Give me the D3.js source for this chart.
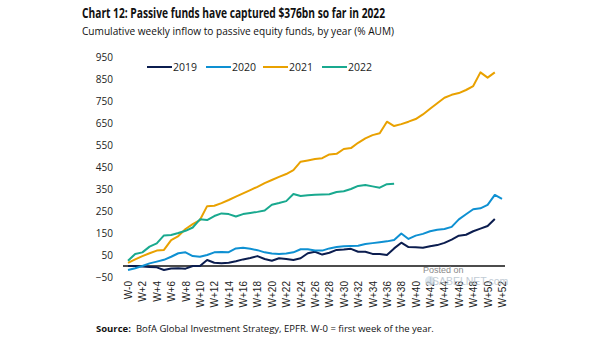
<!DOCTYPE html>
<html><head><meta charset="utf-8">
<script src="https://cdn.jsdelivr.net/npm/d3@7"></script>
<style>
html,body{margin:0;padding:0;background:#fff;}
svg{display:block;font-family:"Open Sans","Liberation Sans",Arial,sans-serif;}
</style></head>
<body><svg id="c" width="605" height="341"></svg>
<script>
const years = ["2019","2020","2021","2022"];
const colors = ["#0b1d4f","#0e90d2","#e9a100","#19a98f"];
const s2019 = [0,0,-2,-4,-6,-18,-11,-10,-12,0,0,27,15,13,15,22,30,36,45,32,24,35,32,27,35,58,65,52,60,73,75,78,65,65,55,55,50,80,106,86,85,83,90,95,105,120,138,142,158,170,182,214];
const s2020 = [-18,-10,0,12,20,28,42,58,62,45,42,50,62,64,63,80,83,78,72,62,57,55,57,62,76,76,70,70,80,86,90,91,92,100,104,108,112,118,148,123,138,146,158,165,168,178,212,235,258,262,278,323,305];
const s2021 = [14,30,45,58,70,73,118,136,168,190,209,272,274,286,300,315,330,345,360,377,391,405,418,436,474,480,486,490,507,510,532,536,560,580,595,603,656,636,645,656,668,689,715,740,765,778,786,800,818,880,856,880];
const s2022 = [24,55,62,88,103,139,141,150,160,175,212,209,227,239,236,225,236,241,246,252,278,286,295,327,318,322,324,325,326,336,340,350,364,368,362,356,372,374];
const series = [s2019,s2020,s2021,s2022];
const yTicks = [-50,50,150,250,350,450,550,650,750,850,950];
const weeks = d3.range(0,53);
const weekLabels = weeks.filter(w=>w%2===0).map(w=> w===0 ? "W-0" : "W+"+w);

const svg = d3.select("#c");
const x = d3.scaleLinear().domain([0,52]).range([128,502]);
const y = d3.scaleLinear().domain([0,950]).range([266,57]);

// title
svg.append("text").attr("x",82).attr("y",18).attr("font-weight","bold").attr("font-size",13.5)
  .attr("textLength",303).attr("lengthAdjust","spacingAndGlyphs").attr("fill","#111")
  .text("Chart 12: Passive funds have captured $376bn so far in 2022");
svg.append("text").attr("x",82).attr("y",35).attr("font-size",11.5)
  .attr("textLength",312).attr("lengthAdjust","spacingAndGlyphs").attr("fill","#111")
  .text("Cumulative weekly inflow to passive equity funds, by year (% AUM)");

// y axis labels
const yAxis = d3.axisLeft(y).tickValues(yTicks).tickSize(0).tickPadding(0);
const gy = svg.append("g").attr("transform","translate(113,0)").call(yAxis);
gy.select(".domain").remove();
gy.selectAll("text").attr("font-size",10).attr("fill","#222").attr("font-family","'Open Sans',sans-serif");

// x axis
const xAxis = d3.axisBottom(x).tickValues(weeks.filter(w=>w%2===0))
  .tickFormat((d,i)=>weekLabels[i]).tickSize(0).tickPadding(0);
const gx = svg.append("g").attr("transform","translate(0,281)").call(xAxis);
gx.select(".domain").remove();
gx.selectAll("text").attr("font-size",10).attr("fill","#222")
  .attr("text-anchor","end").attr("dy","0.35em").attr("x",0).attr("y",0)
  .attr("transform","rotate(-90)");

// zero line
svg.append("line").attr("x1",123).attr("x2",505).attr("y1",y(0)).attr("y2",y(0))
  .attr("stroke","#111").attr("stroke-width",1.3);

// watermark
svg.append("text").attr("x",423).attr("y",273).attr("font-size",9).attr("fill","#8a8a8a")
  .attr("font-family","'Liberation Sans',Arial,sans-serif").text("Posted on");
svg.append("circle").attr("cx",430).attr("cy",281).attr("r",5).attr("fill","#cfdbe6").attr("opacity",0.7);
svg.append("text").attr("x",429).attr("y",285).attr("font-size",10.5).attr("fill","#b3c0cc")
  .attr("opacity",0.8)
  .attr("font-family","'Liberation Sans',Arial,sans-serif").text("ISABELNET.com");

// lines
const line = d3.line().x((d,i)=>x(i)).y(d=>y(d));
series.forEach((s,k)=>{
  svg.append("path").datum(s).attr("d",line).attr("fill","none")
    .attr("stroke",colors[k]).attr("stroke-width",2).attr("stroke-linejoin","round");
});

// legend
const legX = [147,206,263,322];
years.forEach((yr,k)=>{
  svg.append("line").attr("x1",legX[k]).attr("x2",legX[k]+25).attr("y1",67).attr("y2",67)
    .attr("stroke",colors[k]).attr("stroke-width",2);
  svg.append("text").attr("x",legX[k]+26).attr("y",70.5).attr("font-size",10.5).attr("fill","#222").text(yr);
});

// source
const src = svg.append("text").attr("x",96).attr("y",332).attr("font-size",9.5).attr("fill","#111");
src.append("tspan").attr("font-weight","bold").text("Source:");
src.append("tspan").attr("dx",5).text("BofA Global Investment Strategy, EPFR. W-0 = first week of the year.");
</script></body></html>
